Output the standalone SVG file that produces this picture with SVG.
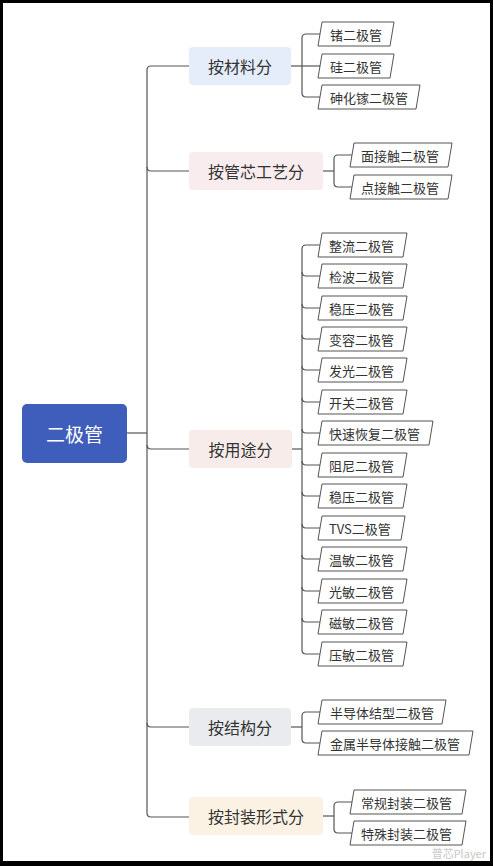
<svg xmlns="http://www.w3.org/2000/svg" width="493" height="866" viewBox="0 0 493 866">
<style>
text{font-family:"Noto Sans CJK SC","Noto Sans",sans-serif;dominant-baseline:central}
.main{fill:#3f5dbb}
.mt{fill:#ffffff;font-size:19px;text-anchor:middle}
.l1t{fill:#333333;font-size:16px;text-anchor:middle}
.leaf{fill:#ffffff;stroke:#555555;stroke-width:1}
.lt{fill:#333333;font-size:13px}
.con{fill:none;stroke:#555555;stroke-width:1.2}
</style>
<rect x="0" y="0" width="493" height="866" fill="#000000"/>
<rect x="3" y="3" width="487" height="858" fill="#ffffff"/>
<g id="connectors" class="con">
<path d="M127,433 H147"/>
<path d="M189,66 H151 Q147,66 147,70 V813 Q147,817 151,817 H189"/>
<path d="M147,167 Q147,171 151,171 H189"/>
<path d="M147,445 Q147,449 151,449 H189"/>
<path d="M147,723 Q147,727 151,727 H189"/>
<path d="M291,66 H320"/>
<path d="M320,34 H306 Q302,34 302,38 V93 Q302,97 306,97 H320"/>
<path d="M323,171 H334"/>
<path d="M352,155 H338 Q334,155 334,159 V183 Q334,187 338,187 H352"/>
<path d="M292,449 H302"/>
<path d="M320,245 H306 Q302,245 302,249 V650 Q302,654 306,654 H320"/>
<path d="M302,272 Q302,276 306,276 H320"/>
<path d="M302,304 Q302,308 306,308 H320"/>
<path d="M302,335 Q302,339 306,339 H320"/>
<path d="M302,366 Q302,370 306,370 H320"/>
<path d="M302,398 Q302,402 306,402 H320"/>
<path d="M302,429 Q302,433 306,433 H320"/>
<path d="M302,461 Q302,465 306,465 H320"/>
<path d="M302,492 Q302,496 306,496 H320"/>
<path d="M302,524 Q302,528 306,528 H320"/>
<path d="M302,555 Q302,559 306,559 H320"/>
<path d="M302,587 Q302,591 306,591 H320"/>
<path d="M302,618 Q302,622 306,622 H320"/>
<path d="M291,727 H302"/>
<path d="M320,712 H306 Q302,712 302,716 V739 Q302,743 306,743 H320"/>
<path d="M323,816 H334"/>
<path d="M352,802 H338 Q334,802 334,806 V829 Q334,833 338,833 H352"/>
</g>
<g id="root"><rect class="main" x="22" y="404" width="105" height="59" rx="5"/><text class="mt" x="74.5" y="433">二极管</text></g>
<g id="n-material"><rect x="189" y="47" width="102" height="38" rx="4" fill="#e6edfa"/><text class="l1t" x="240" y="66">按材料分</text></g>
<g id="n-process"><rect x="189" y="152" width="134" height="38" rx="4" fill="#f8ecef"/><text class="l1t" x="256" y="171">按管芯工艺分</text></g>
<g id="n-use"><rect x="189" y="430" width="103" height="38" rx="4" fill="#f8eceb"/><text class="l1t" x="240.5" y="449">按用途分</text></g>
<g id="n-structure"><rect x="189" y="708" width="102" height="38" rx="4" fill="#e9ebef"/><text class="l1t" x="240" y="727">按结构分</text></g>
<g id="n-package"><rect x="189" y="797" width="134" height="38" rx="4" fill="#fbf2e4"/><text class="l1t" x="256" y="816">按封装形式分</text></g>
<g id="l-ge"><path class="leaf" d="M322,22 H394 L390,46 H318 Z"/><text class="lt" x="330" y="34">锗二极管</text></g>
<g id="l-si"><path class="leaf" d="M322,54 H394 L390,78 H318 Z"/><text class="lt" x="330" y="66">硅二极管</text></g>
<g id="l-gaas"><path class="leaf" d="M322,85 H420 L416,109 H318 Z"/><text class="lt" x="330" y="97">砷化镓二极管</text></g>
<g id="l-face"><path class="leaf" d="M354,143 H452 L448,167 H350 Z"/><text class="lt" x="361" y="155">面接触二极管</text></g>
<g id="l-point"><path class="leaf" d="M354,175 H452 L448,199 H350 Z"/><text class="lt" x="361" y="187">点接触二极管</text></g>
<g id="l-u1"><path class="leaf" d="M322,233 H407 L403,257 H318 Z"/><text class="lt" x="329" y="245">整流二极管</text></g>
<g id="l-u2"><path class="leaf" d="M322,264 H407 L403,288 H318 Z"/><text class="lt" x="329" y="276">检波二极管</text></g>
<g id="l-u3"><path class="leaf" d="M322,296 H407 L403,320 H318 Z"/><text class="lt" x="329" y="308">稳压二极管</text></g>
<g id="l-u4"><path class="leaf" d="M322,327 H407 L403,351 H318 Z"/><text class="lt" x="329" y="339">变容二极管</text></g>
<g id="l-u5"><path class="leaf" d="M322,358 H407 L403,382 H318 Z"/><text class="lt" x="329" y="370">发光二极管</text></g>
<g id="l-u6"><path class="leaf" d="M322,390 H407 L403,414 H318 Z"/><text class="lt" x="329" y="402">开关二极管</text></g>
<g id="l-u7"><path class="leaf" d="M322,421 H433 L429,445 H318 Z"/><text class="lt" x="329" y="433">快速恢复二极管</text></g>
<g id="l-u8"><path class="leaf" d="M322,453 H407 L403,477 H318 Z"/><text class="lt" x="329" y="465">阻尼二极管</text></g>
<g id="l-u9"><path class="leaf" d="M322,484 H407 L403,508 H318 Z"/><text class="lt" x="329" y="496">稳压二极管</text></g>
<g id="l-u10"><path class="leaf" d="M322,516 H405 L401,540 H318 Z"/><text class="lt" x="329" y="528">TVS二极管</text></g>
<g id="l-u11"><path class="leaf" d="M322,547 H407 L403,571 H318 Z"/><text class="lt" x="329" y="559">温敏二极管</text></g>
<g id="l-u12"><path class="leaf" d="M322,579 H407 L403,603 H318 Z"/><text class="lt" x="329" y="591">光敏二极管</text></g>
<g id="l-u13"><path class="leaf" d="M322,610 H407 L403,634 H318 Z"/><text class="lt" x="329" y="622">磁敏二极管</text></g>
<g id="l-u14"><path class="leaf" d="M322,642 H407 L403,666 H318 Z"/><text class="lt" x="329" y="654">压敏二极管</text></g>
<g id="l-s1"><path class="leaf" d="M322,700 H446 L442,724 H318 Z"/><text class="lt" x="330" y="712">半导体结型二极管</text></g>
<g id="l-s2"><path class="leaf" d="M322,731 H473 L469,755 H318 Z"/><text class="lt" x="330" y="743">金属半导体接触二极管</text></g>
<g id="l-p1"><path class="leaf" d="M354,790 H466 L462,814 H350 Z"/><text class="lt" x="361" y="802">常规封装二极管</text></g>
<g id="l-p2"><path class="leaf" d="M354,821 H466 L462,845 H350 Z"/><text class="lt" x="361" y="833">特殊封装二极管</text></g>
<text x="486" y="853" font-size="11" fill="#bbbbbb" opacity="0.8" style="text-anchor:end">普芯Player</text>
</svg>
